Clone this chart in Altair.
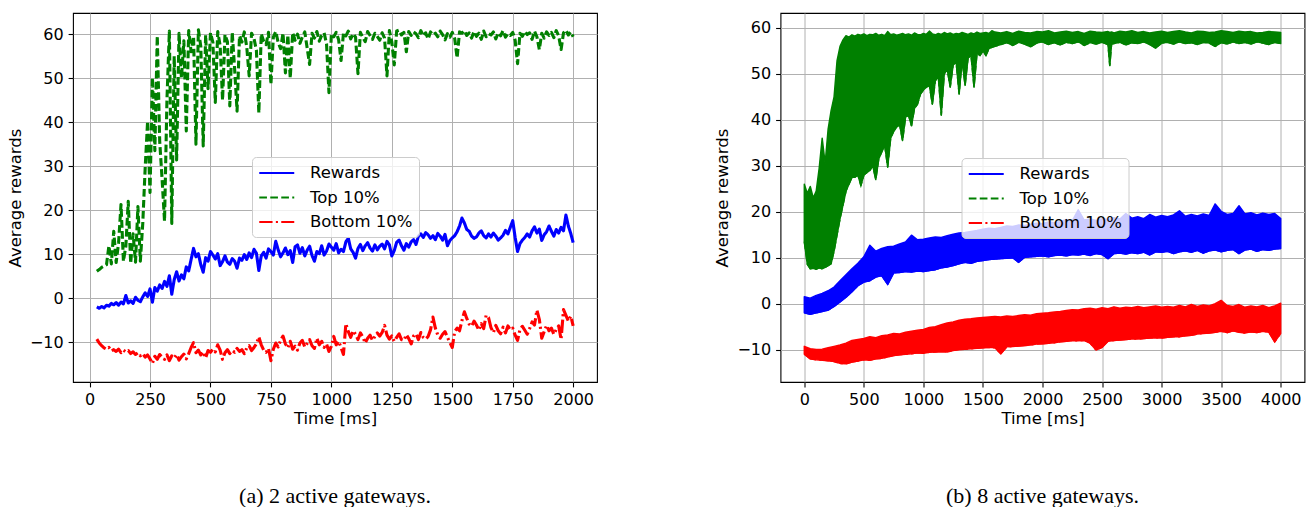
import altair as alt
import pandas as pd

SERIES = ["Rewards", "Top 10%", "Bottom 10%"]
COLORS = ["#0000ff", "#008000", "#ff0000"]
DASHES = [[1, 0], [7.7, 3.3], [13.3, 3.3, 2.1, 3.3]]
X_TICKS_A = [0, 250, 500, 750, 1000, 1250, 1500, 1750, 2000]
X_TICKS_B = [0, 500, 1000, 1500, 2000, 2500, 3000, 3500, 4000]
Y_TICKS = [-10, 0, 10, 20, 30, 40, 50, 60]

# ---------------- (a) 2 active gateways : time 30..2000 ms, every 10 ms
t_a = list(range(30, 2001, 10))
rewards_a = [
    -2.0, -2.3, -1.9, -2.2, -1.6, -1.8, -1.2, -1.5,
    -1.0, -1.6, -0.9, -1.3, 0.6, -1.1, -0.6, -1.2, 0.2, -0.5,
    -0.8, 0.3, 1.2, 0.4, 2.1, -0.9, 2.4, 1.6, 3.0, 2.2,
    3.8, 2.7, 5.1, 0.9, 4.2, 6.0, 3.9, 5.3, 4.4, 7.1,
    6.2, 8.8, 11.3, 9.4, 10.1, 7.6, 5.9, 9.2, 8.4, 10.6,
    9.8, 8.9, 10.1, 7.4, 8.3, 9.6, 8.2, 7.7, 9.0, 8.4,
    6.8, 9.1, 8.6, 9.9, 8.8, 10.3, 9.2, 11.1, 10.2, 6.3,
    9.6, 10.4, 9.1, 11.2, 10.6, 9.8, 12.9, 11.0, 9.4, 10.3,
    11.4, 9.9, 10.8, 8.1, 11.7, 12.1, 10.2, 11.5, 9.6, 10.9,
    11.8, 9.7, 8.4, 10.6, 10.1, 11.9, 9.8, 10.7, 12.3, 11.6,
    10.9, 12.4, 10.3, 11.1, 10.6, 12.8, 13.6, 11.2, 10.4, 9.1,
    11.3, 12.2, 10.8, 11.9, 12.6, 11.4, 10.7, 12.1, 11.0, 11.8,
    12.3, 11.2, 12.9, 12.1, 9.6, 10.8, 12.7, 13.2, 11.9, 10.9,
    12.4, 11.6, 12.8, 13.3, 12.2, 14.1, 14.6, 13.8, 14.9, 14.4,
    13.6, 14.2, 13.3, 14.7, 14.1, 13.2, 14.5, 11.9, 13.1, 13.7,
    14.2, 15.1, 16.4, 18.2, 17.1, 15.6, 15.2, 14.1, 13.6, 13.9,
    14.8, 15.3, 14.2, 13.7, 14.6, 13.9, 14.8, 14.1, 13.2, 13.7,
    14.3, 15.4, 14.6, 16.1, 17.6, 13.8, 10.6, 12.4, 13.2, 13.8,
    14.6, 13.9, 15.3, 16.2, 14.8, 15.7, 13.1, 14.4, 15.1, 16.4,
    15.2, 14.1, 15.6, 14.8, 16.1, 15.3, 18.9, 16.4, 14.7, 12.6,
]
top_a = [
    6.1, 6.5, 7.0, 7.3, 7.6, 11.9, 7.8, 15.2,
    8.1, 12.6, 21.3, 8.4, 11.8, 22.0, 7.9, 14.6, 8.2, 20.8,
    8.4, 17.0, 29.6, 40.2, 24.0, 50.1, 33.5, 59.6, 35.7, 27.0,
    17.5, 45.0, 60.7, 17.0, 55.0, 31.4, 60.2, 50.0, 58.5, 38.0,
    60.8, 56.0, 59.5, 35.0, 61.0, 57.2, 34.6, 59.8, 47.6, 60.3,
    58.1, 44.5, 60.6, 57.4, 45.0, 59.9, 58.3, 43.7, 60.4, 52.0,
    42.5, 59.6, 58.2, 60.5, 57.1, 50.5, 60.2, 59.0, 56.3, 42.1,
    60.1, 58.4, 57.6, 60.4, 48.6, 59.3, 60.6, 58.1, 56.7, 60.2,
    51.2, 59.8, 50.0, 60.3, 58.6, 60.0, 57.9, 59.4, 60.5, 56.8,
    53.1, 60.2, 59.1, 60.6, 58.4, 59.7, 60.3, 57.8, 46.7, 60.1,
    59.4, 60.4, 58.7, 54.0, 60.2, 59.6, 60.7, 58.9, 60.1, 59.3,
    51.0, 60.4, 59.2, 58.3, 60.6, 59.7, 58.8, 60.2, 59.5, 58.6,
    60.3, 59.1, 50.5, 60.8, 58.2, 53.0, 60.7, 60.9, 59.8, 60.4,
    56.0, 60.6, 59.7, 60.5, 60.1, 59.2, 60.8, 59.6, 60.3, 58.9,
    60.5, 59.8, 60.2, 59.4, 60.7, 59.9, 58.7, 60.1, 59.3, 60.4,
    59.0, 54.6, 60.5, 60.2, 60.8, 59.7, 60.3, 59.1, 60.6, 59.5,
    60.2, 58.8, 60.7, 59.4, 60.1, 59.8, 60.5, 58.9, 60.3, 59.6,
    60.8, 59.3, 60.1, 59.7, 60.4, 58.6, 53.3, 60.2, 59.5, 60.6,
    59.9, 60.3, 58.8, 60.7, 59.4, 56.5, 60.2, 59.1, 60.5, 59.7,
    60.4, 59.2, 60.8, 59.6, 56.5, 60.3, 60.9, 59.8, 60.5, 59.4,
]
bottom_a = [
    -9.3, -10.2, -10.8, -11.3, -11.6, -11.2, -12.0, -11.7,
    -12.1, -11.6, -12.4, -11.8, -12.2, -11.9, -12.6, -12.2, -12.8, -12.4,
    -13.1, -12.6, -13.4, -12.9, -13.8, -14.8, -13.2, -13.9, -12.8, -13.4,
    -13.9, -12.9, -14.2, -13.1, -13.6, -12.8, -14.1, -13.3, -12.7, -13.8,
    -12.6, -11.2, -10.1, -12.4, -11.8, -12.9, -12.2, -13.6, -11.9, -12.3,
    -11.6, -12.2, -10.6, -11.8, -13.9, -12.4, -11.7, -12.6, -11.9, -12.3,
    -11.4, -12.1, -11.7, -12.6, -11.3, -10.8, -11.9, -11.2, -10.4, -8.8,
    -10.6, -11.8, -12.3, -11.4, -14.2, -11.6, -10.2, -11.1, -9.6, -8.6,
    -10.4, -11.3, -9.8, -11.6, -10.9, -11.8, -10.2, -9.6, -11.1, -10.3,
    -9.4, -10.8, -11.4, -9.1, -10.6, -9.8, -11.2, -10.4, -12.1, -10.9,
    -8.7, -10.6, -9.8, -11.2, -12.8, -5.8, -7.6, -8.9, -7.4, -8.2,
    -9.4, -7.9, -8.8, -10.2, -9.1, -8.4, -9.6, -8.7, -7.9, -8.6,
    -7.8, -6.2, -8.4, -9.3, -8.6, -9.8, -8.9, -8.1, -9.4, -9.6,
    -8.3, -9.2, -10.4, -8.6, -8.1, -9.4, -7.8, -8.9, -9.3, -8.7,
    -7.2, -4.3, -6.8, -8.4, -9.1, -8.2, -7.6, -8.9, -10.1, -11.2,
    -7.6, -6.8, -7.4, -5.1, -3.1, -4.6, -5.9, -6.4, -5.2, -6.1,
    -7.3, -5.8, -6.9, -3.9, -4.4, -6.7, -7.8, -6.2, -7.4, -8.1,
    -6.6, -7.9, -6.3, -7.2, -6.8, -8.4, -9.6, -7.1, -6.4, -7.3,
    -8.2, -6.9, -5.4, -6.1, -2.7, -4.8, -9.1, -7.6, -6.2, -7.4,
    -6.8, -8.2, -7.1, -6.3, -9.4, -2.6, -3.9, -5.2, -4.1, -6.3,
]

# ---------------- (b) 8 active gateways : dense traces read as low / high envelopes
t_b = list(range(0, 4001, 50))
rewards_b_low = [
    -2.0, -2.3, -2.0, -1.7, -1.4, -0.6, 0.4, 1.4, 2.6, 3.9,
    4.7, 5.0, 5.8, 6.1, 4.2, 6.7, 6.8, 7.0, 6.9, 7.1,
    7.0, 7.2, 7.4, 7.8, 8.0, 8.3, 8.7, 9.0, 8.8, 9.2,
    9.4, 9.6, 9.7, 9.8, 9.9, 10.0, 9.0, 10.1, 10.2, 10.3,
    10.4, 10.2, 10.5, 10.6, 10.4, 10.7, 10.6, 10.8, 10.5, 10.9,
    10.7, 9.8, 10.9, 11.0, 10.8, 11.1, 10.9, 11.2, 10.6, 11.3,
    11.2, 11.4, 10.9, 11.3, 11.5, 11.2, 11.6, 11.0, 11.5, 11.7,
    11.3, 11.6, 11.8, 10.9, 11.7, 11.9, 11.4, 11.8, 11.6, 11.9,
    12.0,
]
rewards_b_high = [
    1.5, 1.2, 1.8, 2.2, 2.8, 3.6, 5.0, 6.3, 7.6, 8.8,
    10.2, 12.7, 11.4, 12.0, 12.4, 12.5, 13.0, 13.4, 14.9, 13.9,
    14.0, 14.3, 14.5, 14.4, 14.8, 15.1, 15.4, 15.5, 15.7, 15.9,
    16.2, 16.4, 16.3, 16.6, 16.9, 16.8, 17.1, 17.0, 17.3, 17.5,
    17.4, 17.8, 17.6, 17.9, 18.3, 18.0, 20.4, 18.2, 18.4, 18.1,
    18.5, 18.3, 18.7, 18.4, 19.6, 18.6, 18.9, 18.5, 19.4, 18.8,
    19.2, 18.9, 19.3, 20.2, 19.0, 19.4, 19.1, 19.5, 19.2, 21.7,
    20.1, 19.4, 19.6, 21.3, 19.5, 19.8, 19.3, 19.7, 19.4, 19.6,
    18.5,
]
bottom_b_low = [
    -11.0, -12.0, -12.2, -12.3, -12.4, -12.6, -13.0, -13.1, -12.7, -12.5,
    -12.2, -12.3, -12.0, -11.9, -11.6, -11.3, -11.1, -11.0, -10.9, -10.7,
    -10.8, -10.6, -10.5, -10.4, -10.5, -10.2, -10.0, -9.9, -9.8, -9.7,
    -9.6, -9.5, -9.6, -10.9, -9.4, -9.3, -9.2, -9.1, -9.0, -8.8,
    -8.7, -8.6, -8.5, -8.3, -8.2, -8.0, -8.1, -8.0, -8.6, -10.1,
    -9.5, -8.2, -8.0, -7.9, -7.8, -7.7, -7.7, -7.6, -7.5, -7.4,
    -7.5, -7.3, -7.2, -7.2, -7.0, -6.9, -6.6, -6.5, -6.4, -6.2,
    -6.0, -6.3, -5.9, -6.2, -6.4, -6.1, -6.3, -6.0, -6.2, -8.3,
    -6.5,
]
bottom_b_high = [
    -9.3, -9.8, -10.0, -9.9, -9.6, -9.3, -9.0, -8.6, -8.0, -7.8,
    -7.6, -7.2, -7.4, -7.0, -6.8, -6.5, -6.6, -6.2, -6.0, -5.8,
    -5.6, -5.2, -5.0, -4.6, -4.2, -4.0, -3.6, -3.4, -3.3, -3.1,
    -3.0, -2.9, -2.8, -2.9, -2.7, -2.8, -2.6, -2.4, -2.5, -2.2,
    -2.1, -2.0, -1.8, -1.7, -1.5, -1.3, -1.4, -1.1, -1.0, -1.2,
    -0.9, -1.1, -0.7, -1.0, -0.8, -0.9, -0.6, -0.9, -0.7, -0.5,
    -0.8, -0.6, -0.8, -0.4, -0.7, -0.2, -0.6, -0.3, -0.5, 0.0,
    0.7, -0.4, -0.6, -0.2, -0.8, -0.5, -0.7, -0.4, -0.9, -0.5,
    0.1,
]
t_top_b = (list(range(0, 1601, 25)) + list(range(1650, 2551, 50)) + [2565, 2580]
           + list(range(2600, 4001, 50)))
top_b_low = [
    13.5, 8.6, 7.6, 7.7, 7.5, 7.8, 7.6, 7.9, 8.3, 8.7,
    11.5, 15.0, 18.5, 21.5, 24.5, 26.0, 27.5, 27.5, 28.0, 25.7,
    28.0, 28.5, 29.0, 30.0, 27.0, 31.5, 33.0, 34.5, 29.7, 36.0,
    37.5, 38.4, 39.0, 35.5, 40.6, 41.0, 38.7, 42.5, 43.4, 45.6,
    46.5, 47.1, 47.5, 43.4, 48.5, 49.5, 41.0, 50.0, 51.0, 47.1,
    52.0, 52.5, 45.6, 53.0, 47.5, 53.5, 54.0, 47.1, 54.5, 54.0,
    55.0, 54.0, 55.5, 55.8, 56.0,
    56.4, 56.8, 56.2, 56.9, 56.5, 55.9, 56.7, 57.0, 56.4, 56.8,
    56.3, 56.9, 56.6, 57.0, 56.2, 56.8, 56.5, 56.9, 56.4,
    51.8, 56.5,
    56.6, 56.9, 56.3, 56.8, 56.6, 57.0, 56.4, 55.6, 56.7, 56.9,
    56.5, 57.0, 56.6, 56.8, 56.4, 56.9, 56.7, 56.0, 56.8, 56.5,
    57.0, 56.6, 56.9, 56.5, 57.0, 56.7, 56.4, 56.9, 56.6,
]
top_b_high = [
    26.0, 24.0, 25.5, 23.0, 24.5, 29.5, 36.0, 30.5, 38.0, 42.0,
    45.0, 52.9, 56.0, 57.4, 58.3, 58.0, 58.5, 58.2, 58.6, 58.4,
    58.7, 58.3, 58.6, 58.5, 58.8, 58.4, 58.6, 58.3, 59.2, 58.5,
    58.7, 58.4, 58.6, 58.8, 58.5, 58.7, 58.4, 58.9, 58.6, 58.5,
    58.8, 58.6, 59.3, 58.7, 58.5, 58.8, 58.6, 59.0, 58.7, 58.9,
    58.6, 58.8, 58.7, 59.0, 58.8, 58.6, 58.9, 58.7, 59.1, 58.8,
    58.9, 59.0, 58.8, 59.4, 59.1,
    58.9, 59.2, 58.8, 59.3, 59.0, 58.9, 59.2, 59.1, 59.4, 58.9,
    59.1, 59.3, 59.0, 59.2, 58.8, 59.3, 59.1, 59.0, 59.2,
    59.0, 59.1,
    58.9, 59.3, 59.1, 59.4, 59.0, 59.2, 58.9, 59.1, 59.3, 59.0,
    59.2, 59.4, 59.1, 58.9, 59.3, 59.2, 59.0, 59.1, 59.4, 59.2,
    59.0, 59.3, 59.1, 59.2, 58.9, 59.0, 59.2, 59.1, 59.0,
]

# ---------------- tables
df_a = pd.DataFrame({
    "t": t_a * 3,
    "value": rewards_a + top_a + bottom_a,
    "series": ["Rewards"] * len(t_a) + ["Top 10%"] * len(t_a) + ["Bottom 10%"] * len(t_a),
})
df_b = pd.DataFrame({
    "t": t_b + t_top_b + t_b,
    "low": rewards_b_low + top_b_low + bottom_b_low,
    "high": rewards_b_high + top_b_high + bottom_b_high,
    "series": ["Rewards"] * len(t_b) + ["Top 10%"] * len(t_top_b) + ["Bottom 10%"] * len(t_b),
})

color_scale = alt.Scale(domain=SERIES, range=COLORS)
dash_scale = alt.Scale(domain=SERIES, range=DASHES)


def make_legend(x, y):
    return alt.Legend(
        title=None, orient="none", legendX=x, legendY=y,
        symbolType="M-1,0H3", symbolSize=306, symbolStrokeWidth=2,
        labelFont="DejaVu Sans", labelFontSize=16.5, labelColor="black",
        labelOffset=32, rowPadding=5.5, padding=6, labelLimit=300,
        fillColor="rgba(255,255,255,0.8)", strokeColor="#cccccc", cornerRadius=4,
    )


def x_enc(domain, ticks):
    return alt.X("t:Q", scale=alt.Scale(domain=domain, nice=False, zero=False),
                 axis=alt.Axis(values=ticks, title="Time [ms]", format="d"))


def y_enc(field, domain):
    return alt.Y(field, type="quantitative",
                 scale=alt.Scale(domain=domain, nice=False, zero=False),
                 axis=alt.Axis(values=Y_TICKS, title="Average rewards", format="d"))


W, H = 524, 369
caption_style = dict(orient="bottom", anchor="middle", frame="group", offset=59,
                     font="Liberation Serif", fontSize=22, fontWeight="normal", color="black")

# ---- panel (a)
dom_xa = [-68.5, 2098.5]
dom_ya = [-19.05, 64.8]
left = alt.Chart(df_a).mark_line(strokeWidth=3.1, strokeJoin="round").encode(
    x=x_enc(dom_xa, X_TICKS_A),
    y=y_enc("value", dom_ya),
    color=alt.Color("series:N", scale=color_scale, legend=make_legend(179, 144)),
    strokeDash=alt.StrokeDash("series:N", scale=dash_scale, legend=make_legend(179, 144)),
).properties(width=W, height=H,
             title=alt.TitleParams("(a) 2 active gateways.", **caption_style))

# ---- panel (b)
dom_xb = [-200, 4200]
dom_yb = [-17.05, 63.25]
legend_line = alt.Chart(df_b).mark_line(strokeWidth=1.5).encode(
    x=x_enc(dom_xb, X_TICKS_B),
    y=y_enc("low", dom_yb),
    color=alt.Color("series:N", scale=color_scale, legend=make_legend(181, 145)),
    strokeDash=alt.StrokeDash("series:N", scale=dash_scale, legend=make_legend(181, 145)),
)
bands = []
for name, col in zip(SERIES, COLORS):
    bands.append(
        alt.Chart(df_b).transform_filter(alt.datum.series == name)
        .mark_area(fill=col, stroke=col, strokeWidth=1.5, strokeJoin="round", opacity=1)
        .encode(x=x_enc(dom_xb, X_TICKS_B), y=y_enc("low", dom_yb), y2="high:Q")
    )
right = alt.layer(legend_line, *bands).properties(
    width=W, height=H,
    title=alt.TitleParams("(b) 8 active gateways.", **caption_style))

chart = alt.hconcat(left, right, spacing=183.5, bounds="flush").resolve_scale(
    color="independent", strokeDash="independent"
).resolve_legend(
    color="independent", strokeDash="independent"
).properties(
    padding={"left": 6, "top": 12, "right": 0, "bottom": 0}
).configure_view(
    stroke="black", strokeWidth=1.1
).configure_axis(
    domain=False, grid=True, gridColor="#b0b0b0", gridWidth=1,
    tickColor="black", tickSize=4.9, tickWidth=1.1,
    labelFont="DejaVu Sans", labelFontSize=16, labelColor="black", labelPadding=4.9,
    labelFlush=False, labelOverlap=False,
    titleFont="DejaVu Sans", titleFontSize=16.5, titleFontWeight="normal", titleColor="black",
).configure_axisX(titlePadding=3).configure_axisY(titlePadding=6)

chart.save("out.html", embed_options={"renderer": "svg", "actions": False})
